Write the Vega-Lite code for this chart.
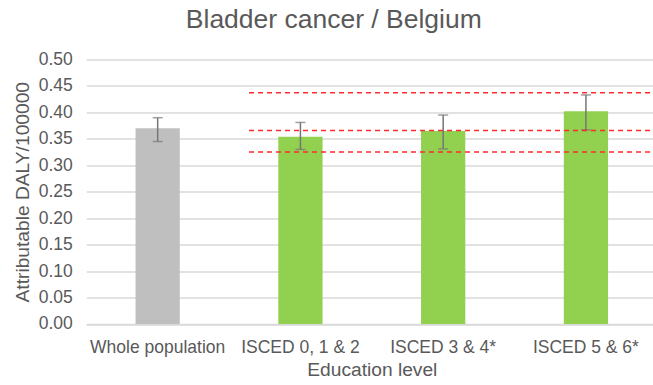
{
  "$schema": "https://vega.github.io/schema/vega-lite/v6.json",
  "width": 571,
  "height": 264.5,
  "autosize": {"type": "none"},
  "padding": {"left": 86.3, "top": 59.5, "right": 0, "bottom": 61},
  "background": "white",
  "config": {
    "font": "Liberation Sans",
    "view": {"stroke": null},
    "axis": {"labelColor": "#595959", "titleColor": "#595959", "labelFont": "Liberation Sans", "titleFont": "Liberation Sans", "titleFontWeight": "normal"}
  },
  "title": {
    "text": "Bladder cancer / Belgium",
    "fontSize": 26.5,
    "font": "Liberation Sans",
    "fontWeight": "normal",
    "color": "#595959",
    "anchor": "middle",
    "dx": -38,
    "offset": 17
  },
  "datasets": {
    "bars": [
      {"level": "Whole population", "value": 0.370, "lo": 0.345, "hi": 0.390, "group": "whole"},
      {"level": "ISCED 0, 1 & 2", "value": 0.354, "lo": 0.330, "hi": 0.381, "group": "isced"},
      {"level": "ISCED 3 & 4*", "value": 0.365, "lo": 0.331, "hi": 0.395, "group": "isced"},
      {"level": "ISCED 5 & 6*", "value": 0.402, "lo": 0.367, "hi": 0.433, "group": "isced"}
    ],
    "refs": [
      {"start": 1.14, "end": 4, "y": 0.437},
      {"start": 1.14, "end": 4, "y": 0.366},
      {"start": 1.14, "end": 4, "y": 0.325}
    ]
  },
  "resolve": {"scale": {"x": "independent"}},
  "layer": [
    {
      "data": {"name": "bars"},
      "layer": [
        {
          "mark": {"type": "bar"},
          "encoding": {
            "x": {
              "field": "level", "type": "nominal", "sort": null,
              "scale": {"paddingInner": 0.69, "paddingOuter": 0.345},
              "axis": {"title": "Education level", "labelAngle": 0, "labelFontSize": 17.5, "titleFontSize": 19.2, "labelPadding": 15, "titlePadding": 4, "ticks": false, "domainColor": "#d9d9d9", "domainWidth": 1.3}
            },
            "y": {
              "field": "value", "type": "quantitative",
              "scale": {"domain": [0, 0.5], "nice": false},
              "axis": {"title": "Attributable DALY/100000", "values": [0, 0.05, 0.1, 0.15, 0.2, 0.25, 0.3, 0.35, 0.4, 0.45, 0.5], "tickCount": 20, "format": ".2f", "labelOverlap": false, "labelFontSize": 17.5, "titleFontSize": 19.2, "labelPadding": 14, "titlePadding": 6, "ticks": false, "domain": false, "gridColor": "#d9d9d9", "gridWidth": 1.3}
            },
            "color": {"field": "group", "type": "nominal", "scale": {"domain": ["whole", "isced"], "range": ["#bfbfbf", "#92d050"]}, "legend": null}
          }
        },
        {
          "mark": {"type": "rule", "color": "#767676", "strokeWidth": 1.5},
          "encoding": {
            "x": {"field": "level", "type": "nominal", "sort": null},
            "y": {"field": "lo", "type": "quantitative"},
            "y2": {"field": "hi"}
          }
        },
        {
          "mark": {"type": "tick", "color": "#767676", "size": 10, "thickness": 1.5},
          "encoding": {
            "x": {"field": "level", "type": "nominal", "sort": null},
            "y": {"field": "lo", "type": "quantitative"}
          }
        },
        {
          "mark": {"type": "tick", "color": "#767676", "size": 10, "thickness": 1.5},
          "encoding": {
            "x": {"field": "level", "type": "nominal", "sort": null},
            "y": {"field": "hi", "type": "quantitative"}
          }
        }
      ]
    },
    {
      "data": {"name": "refs"},
      "mark": {"type": "rule", "color": "#ff2a2a", "strokeWidth": 1.5, "strokeDash": [5, 4]},
      "encoding": {
        "x": {"field": "start", "type": "quantitative", "scale": {"domain": [0, 4], "nice": false, "zero": false}, "axis": null},
        "x2": {"field": "end"},
        "y": {"field": "y", "type": "quantitative"}
      }
    }
  ]
}
